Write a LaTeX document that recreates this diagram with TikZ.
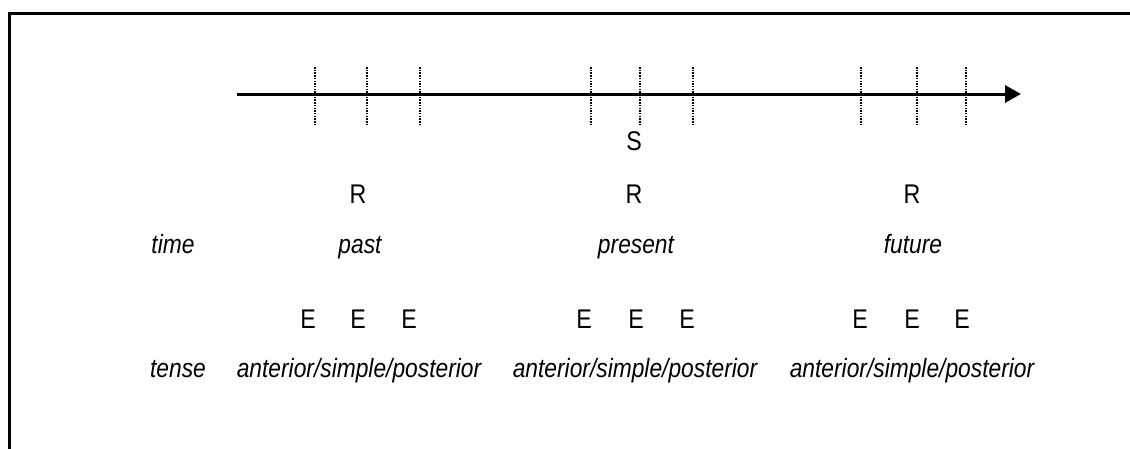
\documentclass[tikz,border=0pt]{standalone}
\usepackage{fontspec}
\newfontfamily\diagfont[FakeStretch=0.86]{Liberation Sans}
\usetikzlibrary{arrows.meta}
\tikzset{
    framebox/.style={draw, line width=3pt},
    timeline/.style={-{Triangle[length=16pt, width=17pt]}, line width=3pt},
    tickline/.style={line width=1.8pt, dash pattern=on 1.5pt off 1.2pt},
    letternode/.style={inner sep=0pt, anchor=base, font=\diagfont\fontsize{27}{31}\selectfont},
    wordnode/.style={inner sep=0pt, anchor=base, font=\diagfont\fontsize{26.5}{30}\selectfont\itshape}
}

\begin{document}
\begin{tikzpicture}[x=1pt, y=-1pt]
        \useasboundingbox (0,0) rectangle (1130,448);
        \clip (0,0) rectangle (1130,448);
        \draw[framebox] (9,13) rectangle (1200,500);

        % time axis with the three groups of E positions
        \coordinate (axstart) at (237,94);
        \coordinate (axend) at (1021,94);
        \draw[timeline] (axstart) -- (axend);

        \draw[tickline] (315,67) -- (315,124);
        \draw[tickline] (367,67) -- (367,124);
        \draw[tickline] (420,67) -- (420,124);
        \draw[tickline] (591,67) -- (591,124);
        \draw[tickline] (640,67) -- (640,124);
        \draw[tickline] (693,67) -- (693,124);
        \draw[tickline] (861,67) -- (861,124);
        \draw[tickline] (917,67) -- (917,124);
        \draw[tickline] (966,67) -- (966,124);

        % speech time and reference points
        \node[letternode] (speech) at (634,150) {S};
        \node[letternode] (refpast) at (358,203) {R};
        \node[letternode] (refpres) at (634,203) {R};
        \node[letternode] (reffut) at (912,203) {R};

        \node[wordnode] (timelbl) at (173,253) {time};
        \node[wordnode] (past) at (360,253) {past};
        \node[wordnode] (present) at (636,253) {present};
        \node[wordnode] (future) at (913,253) {future};

        % event points
        \node[letternode] (epasta) at (308,328) {E};
        \node[letternode] (epastb) at (358,328) {E};
        \node[letternode] (epastc) at (409,328) {E};
        \node[letternode] (epresa) at (584,328) {E};
        \node[letternode] (epresb) at (636,328) {E};
        \node[letternode] (epresc) at (687,328) {E};
        \node[letternode] (efuta) at (860,328) {E};
        \node[letternode] (efutb) at (912,328) {E};
        \node[letternode] (efutc) at (962,328) {E};

        \node[wordnode] (tenselbl) at (178,377) {tense};
        \node[wordnode] (tensepast) at (359,377) {anterior/simple/posterior};
        \node[wordnode] (tensepres) at (635,377) {anterior/simple/posterior};
        \node[wordnode] (tensefut) at (912,377) {anterior/simple/posterior};
\end{tikzpicture}
\end{document}
